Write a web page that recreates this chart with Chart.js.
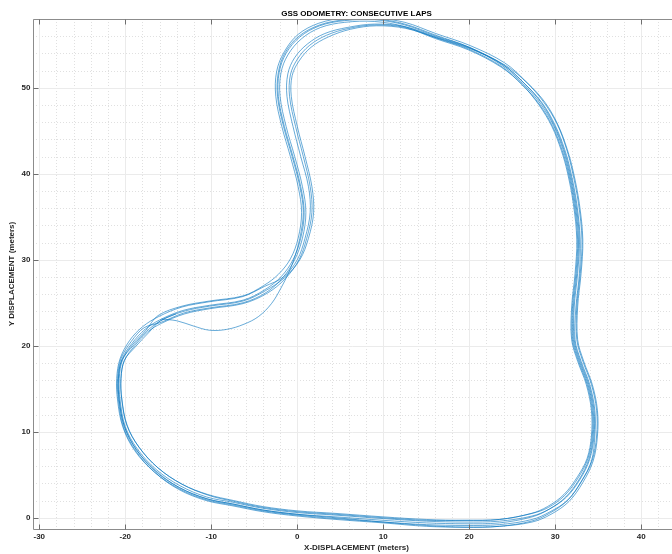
<!DOCTYPE html>
<html>
<head>
<meta charset="utf-8">
<title>GSS Odometry</title>
<script src="https://cdn.jsdelivr.net/npm/chart.js@4.4.1/dist/chart.umd.min.js"></script>
<style>
    body { margin: 0; background: #fff; }
    canvas { display: block; }
</style>
</head>
<body>
<canvas id="lapsChart" width="672" height="554"></canvas>
<script>
// ===== Lap data (x, y in meters) =====
// first lap starts in the saddle, below the usual line
const lap1 = [[-15.8,23.1],[-14.0,22.9],[-12.1,22.3],[-10.2,21.8],[-8.2,21.9],[-6.2,22.5],[-4.5,23.4],[-3.0,24.9],[-1.9,26.7],[-1.0,28.5],[-0.3,30.3],
    [0.3,32.5],[0.7,35.5],[0.3,38.5],[-0.6,42.0],[-1.6,45.5],[-2.3,49.0],[-2.2,51.8],[-1.4,54.1],[0.2,56.0],[2.6,57.3],[5.5,57.9],
    [9.0,58.0],[12.5,57.4],[16.1,56.1],[20.0,54.7],[23.8,52.6],[26.3,50.4],[28.3,48.1],[29.8,45.6],[30.9,42.8],[31.6,40.2],[32.3,36.5],
    [32.7,32.3],[32.5,28.4],[32.1,24.5],[32.1,20.7],[32.8,18.2],[33.8,15.5],[34.4,12.5],[34.4,9.5],[33.9,6.8],[32.8,4.5],
    [31.2,2.4],[29.3,1.0],[27.3,0.1],[23.5,-0.6],[19.5,-0.7],[15.0,-0.6],[10.0,-0.3],[4.5,0.1],[0.0,0.4],[-4.0,0.9],
    [-7.5,1.6],[-10.5,2.2],[-13.7,3.5],[-16.5,5.4],[-18.7,7.9],[-20.1,10.6],[-20.7,13.7],[-20.8,16.2],[-20.4,18.4],[-19.2,20.3],[-17.7,21.9]];

const lap2 = [[-16.0,23.0],[-13.3,24.1],[-10.2,24.7],[-6.3,25.3],[-3.8,26.5],[-1.9,28.0],[-0.5,30.0],[0.4,32.5],[0.8,35.5],[0.4,38.5],
    [-0.5,42.0],[-1.5,45.5],[-2.2,49.0],[-2.1,51.8],[-1.3,54.0],[0.3,55.9],[2.6,57.2],[5.5,57.8],[9.0,57.9],[12.5,57.3],
    [16.1,56.0],[20.0,54.7],[23.9,52.7],[26.4,50.5],[28.4,48.2],[29.9,45.6],[31.0,42.8],[31.7,40.2],[32.4,36.5],[32.8,32.3],[32.6,28.4],
    [32.2,24.5],[32.2,20.7],[32.9,18.2],[33.9,15.5],[34.5,12.5],[34.5,9.5],[34.0,6.8],[32.9,4.5],[31.3,2.4],[29.3,1.0],
    [27.3,0.2],[23.5,-0.4],[19.5,-0.5],[15.0,-0.4],[10.0,-0.1],[4.5,0.3],[0.0,0.6],[-4.0,1.1],[-7.5,1.8],[-10.5,2.4],
    [-13.6,3.7],[-16.4,5.6],[-18.6,8.0],[-20.0,10.6],[-20.6,13.7],[-20.7,16.2],[-20.3,18.4],[-19.1,20.2],[-17.6,21.8]];

const lap3 = [[-16.1,23.4],[-13.4,24.5],[-10.3,25.1],[-6.4,25.7],[-3.8,26.9],[-1.6,28.0],[0.0,30.0],[0.9,32.5],[1.5,35.5],[1.3,38.5],
    [0.4,42.0],[-0.5,45.5],[-1.2,49.0],[-1.1,51.6],[-0.3,53.5],[1.2,55.1],[3.2,56.3],[5.8,57.0],[9.0,57.4],[12.5,57.1],
    [16.1,55.9],[20.1,54.6],[24.0,52.6],[26.5,50.4],[28.5,48.2],[30.0,45.6],[31.1,42.8],[31.8,40.2],[32.5,36.5],[32.9,32.3],[32.8,28.4],
    [32.4,24.5],[32.3,20.7],[33.0,18.2],[34.0,15.5],[34.6,12.5],[34.6,9.5],[34.2,6.6],[33.0,4.2],[31.4,2.0],[29.3,0.5],
    [27.2,-0.4],[23.5,-1.0],[19.5,-1.1],[15.0,-1.0],[10.0,-0.6],[4.5,-0.2],[0.0,0.2],[-4.0,0.7],[-7.6,1.4],[-10.6,2.0],
    [-13.8,3.3],[-16.6,5.3],[-18.8,7.8],[-20.2,10.5],[-20.8,13.7],[-20.9,16.2],[-20.5,18.5],[-19.3,20.5],[-17.8,22.1]];

const lap4 = [[-16.2,23.5],[-13.4,24.6],[-10.2,25.2],[-6.3,25.8],[-3.9,27.0],[-2.2,28.3],[-0.8,30.1],[0.1,32.5],[0.5,35.5],[0.1,38.5],
    [-0.8,42.0],[-1.8,45.5],[-2.5,49.0],[-2.4,51.9],[-1.5,54.2],[0.1,56.2],[2.5,57.5],[5.5,58.1],[9.0,58.1],[12.5,57.6],
    [16.1,56.3],[20.1,54.9],[24.1,52.9],[26.6,50.7],[28.6,48.4],[30.2,45.8],[31.3,42.9],[32.0,40.2],[32.7,36.5],[33.1,32.3],[32.9,28.4],
    [32.5,24.5],[32.5,20.7],[33.2,18.2],[34.2,15.5],[34.8,12.5],[34.8,9.5],[34.3,6.7],[33.1,4.3],[31.5,2.1],[29.4,0.7],
    [27.3,-0.2],[23.5,-0.8],[19.5,-0.9],[15.0,-0.8],[10.0,-0.5],[4.5,-0.1],[0.0,0.3],[-4.0,0.8],[-7.6,1.5],[-10.6,2.1],
    [-13.8,3.4],[-16.6,5.3],[-18.9,7.8],[-20.3,10.6],[-20.9,13.7],[-21.0,16.2],[-20.6,18.5],[-19.5,20.6],[-18.0,22.2]];

const lap5 = [[-15.8,22.6],[-13.1,23.7],[-10.2,24.3],[-6.3,24.9],[-3.5,26.1],[-1.4,27.8],[0.2,30.0],[1.1,32.5],[1.7,35.5],[1.5,38.5],
    [0.7,42.0],[-0.2,45.5],[-0.9,49.0],[-0.8,51.5],[0.0,53.3],[1.4,54.9],[3.4,56.1],[6.0,56.9],[9.1,57.3],[12.5,57.0],
    [16.1,55.7],[19.9,54.4],[23.7,52.4],[26.2,50.3],[28.1,48.0],[29.6,45.5],[30.7,42.7],[31.4,40.2],[32.1,36.5],[32.5,32.3],[32.3,28.4],
    [31.9,24.5],[31.9,20.7],[32.6,18.2],[33.6,15.5],[34.2,12.5],[34.2,9.5],[33.7,6.9],[32.6,4.8],[31.0,2.7],[29.1,1.3],
    [27.2,0.5],[23.5,-0.2],[19.5,-0.3],[15.0,-0.3],[10.0,0.0],[4.5,0.4],[0.0,0.7],[-4.0,1.2],[-7.4,1.9],[-10.3,2.6],
    [-13.4,3.9],[-16.2,5.8],[-18.4,8.2],[-19.8,10.8],[-20.4,13.8],[-20.5,16.2],[-20.1,18.3],[-18.8,19.9],[-17.3,21.5]];

const lap6 = [[-15.9,22.7],[-13.2,23.8],[-10.2,24.4],[-6.3,25.0],[-3.6,26.2],[-1.7,27.9],[-0.3,30.0],[0.6,32.5],[1.0,35.5],[0.6,38.5],
    [-0.3,42.0],[-1.3,45.5],[-2.0,49.0],[-1.9,51.7],[-1.1,53.8],[0.5,55.7],[2.7,57.0],[5.5,57.6],[9.0,57.7],[12.5,57.1],
    [16.1,55.8],[19.9,54.5],[23.7,52.5],[26.2,50.3],[28.2,48.0],[29.7,45.5],[30.8,42.7],[31.5,40.2],[32.2,36.5],[32.6,32.3],[32.4,28.4],
    [32.0,24.5],[32.0,20.7],[32.7,18.2],[33.7,15.5],[34.3,12.5],[34.3,9.5],[33.8,6.9],[32.7,4.7],[31.1,2.6],[29.2,1.2],
    [27.3,0.5],[23.5,-0.2],[19.5,-0.3],[15.0,-0.2],[10.0,0.1],[4.5,0.5],[0.0,0.8],[-4.0,1.3],[-7.4,2.0],[-10.4,2.7],
    [-13.4,3.9],[-16.2,5.8],[-18.4,8.2],[-19.8,10.7],[-20.4,13.7],[-20.5,16.2],[-20.1,18.3],[-18.9,20.0],[-17.4,21.6]];

const lap7 = [[-15.9,22.9],[-13.2,24.0],[-10.2,24.6],[-6.3,25.2],[-3.7,26.4],[-1.5,27.9],[0.3,30.0],[1.3,32.5],[1.9,35.5],[1.7,38.5],
    [0.9,42.0],[0.0,45.5],[-0.7,49.0],[-0.6,51.4],[0.2,53.1],[1.6,54.7],[3.6,55.9],[6.2,56.8],[9.2,57.2],[12.6,56.9],
    [16.2,55.8],[20.2,54.5],[24.2,52.6],[26.8,50.5],[28.8,48.3],[30.3,45.7],[31.4,42.8],[32.1,40.2],[32.8,36.5],[33.2,32.3],[33.0,28.4],
    [32.6,24.5],[32.6,20.7],[33.3,18.2],[34.3,15.5],[34.9,12.5],[34.9,9.5],[34.4,6.6],[33.2,4.1],[31.6,1.9],[29.5,0.4],
    [27.3,-0.5],[23.5,-1.0],[19.5,-1.1],[15.0,-0.9],[10.0,-0.5],[4.5,0.0],[0.0,0.4],[-4.0,0.9],[-7.5,1.6],[-10.5,2.2],
    [-13.7,3.5],[-16.5,5.5],[-18.7,7.9],[-20.1,10.6],[-20.7,13.6],[-20.8,16.1],[-20.4,18.3],[-19.0,20.1],[-17.5,21.7],
    [-15.9,22.9],[-14.1,23.7]];

// laps in driving order; the car goes round continuously
const laps = [lap1, lap2, lap4, lap3, lap6, lap5, lap7];

// Axis limits and tick labels
const xLimits = [-30.73, 43.57];
const yLimits = [-1.31, 57.99];
const xTicks = [-30, -20, -10, 0, 10, 20, 30, 40];
const yTicks = [0, 10, 20, 30, 40, 50];

const titleText = 'GSS ODOMETRY: CONSECUTIVE LAPS';
const xLabel = 'X-DISPLACEMENT (meters)';
const yLabel = 'Y DISPLACEMENT (meters)';

const FONT = "'Liberation Sans', Arial, Helvetica, sans-serif";
const lineBlue = '#0072BD';

// ===== Grid, box and labels drawn MATLAB style =====
const matlabAxes = {
    id: 'matlabAxes',
    beforeDatasetsDraw(chart) {
        const { ctx, chartArea: a, scales: { x, y } } = chart;
        ctx.save();
        ctx.lineWidth = 1;

        // minor grid (dotted, every 2 m)
        ctx.strokeStyle = '#e0e0e0';
        ctx.setLineDash([1, 2]);
        for (let v = -30; v <= 44; v += 2) {
            if (v % 10 === 0) continue;
            const px = Math.round(x.getPixelForValue(v)) + 0.5;
            if (px < a.left || px > a.right) continue;
            ctx.beginPath(); ctx.moveTo(px, a.top); ctx.lineTo(px, a.bottom); ctx.stroke();
        }
        for (let v = 0; v <= 58; v += 2) {
            if (v % 10 === 0) continue;
            const py = Math.round(y.getPixelForValue(v)) + 0.5;
            ctx.beginPath(); ctx.moveTo(a.left, py); ctx.lineTo(a.right, py); ctx.stroke();
        }

        // major grid
        ctx.setLineDash([]);
        ctx.strokeStyle = '#ebebeb';
        xTicks.forEach(v => {
            const px = Math.round(x.getPixelForValue(v)) + 0.5;
            ctx.beginPath(); ctx.moveTo(px, a.top); ctx.lineTo(px, a.bottom); ctx.stroke();
        });
        yTicks.forEach(v => {
            const py = Math.round(y.getPixelForValue(v)) + 0.5;
            ctx.beginPath(); ctx.moveTo(a.left, py); ctx.lineTo(a.right, py); ctx.stroke();
        });
        ctx.restore();
    },
    afterDatasetsDraw(chart) {
        const { ctx, chartArea: a, scales: { x, y } } = chart;
        ctx.save();
        const L = Math.round(a.left) + 0.5;
        const T = Math.round(a.top) + 0.5;
        const B = Math.round(a.bottom) + 0.5;

        // box (the right edge runs off the page)
        ctx.strokeStyle = '#8c8c8c';
        ctx.lineWidth = 1;
        ctx.beginPath();
        ctx.moveTo(a.right + 2, T); ctx.lineTo(L, T); ctx.lineTo(L, B); ctx.lineTo(a.right + 2, B);
        ctx.stroke();

        // inward tick marks
        ctx.strokeStyle = '#6e6e6e';
        xTicks.forEach(v => {
            const px = Math.round(x.getPixelForValue(v)) + 0.5;
            ctx.beginPath();
            ctx.moveTo(px, B); ctx.lineTo(px, B - 5);
            ctx.moveTo(px, T); ctx.lineTo(px, T + 5);
            ctx.stroke();
        });
        yTicks.forEach(v => {
            const py = Math.round(y.getPixelForValue(v)) + 0.5;
            ctx.beginPath(); ctx.moveTo(L, py); ctx.lineTo(L + 5, py); ctx.stroke();
        });

        // tick labels
        ctx.fillStyle = '#262626';
        ctx.font = 'bold 8px ' + FONT;
        ctx.textBaseline = 'middle';
        ctx.textAlign = 'center';
        xTicks.forEach(v => ctx.fillText(String(v), x.getPixelForValue(v), 537));
        ctx.textAlign = 'right';
        yTicks.forEach(v => ctx.fillText(String(v), 30.5, y.getPixelForValue(v)));

        // title and axis labels
        const cx = 356.5;
        ctx.textAlign = 'center';
        ctx.fillStyle = '#000';
        ctx.fillText(titleText, cx, 13.5);

        ctx.fillStyle = '#262626';
        ctx.fillText(xLabel, cx, 547.5);

        ctx.translate(11.5, (a.top + a.bottom) / 2);
        ctx.rotate(-Math.PI / 2);
        ctx.fillText(yLabel, 0, 0);
        ctx.restore();
    }
};

// ===== Chart =====
// one continuous trace so the smoothing carries across lap boundaries
const track = laps.flat().map(([px, py]) => ({ x: px, y: py }));

new Chart(document.getElementById('lapsChart'), {
    type: 'scatter',
    data: {
        datasets: [{
            data: track,
            showLine: true,
            borderColor: lineBlue,
            borderWidth: 0.6,
            pointRadius: 0,
            tension: 0.35,
            fill: false
        }]
    },
    plugins: [matlabAxes],
    options: {
        responsive: false,
        animation: false,
        devicePixelRatio: 1,
        layout: { padding: { top: 19, right: 0, left: 0, bottom: 0 } },
        plugins: {
            legend: { display: false },
            tooltip: { enabled: false }
        },
        scales: {
            x: {
                type: 'linear',
                min: xLimits[0],
                max: xLimits[1],
                grid: { display: false },
                border: { display: false },
                ticks: { display: false },
                afterFit: s => { s.height = 25; }
            },
            y: {
                type: 'linear',
                min: yLimits[0],
                max: yLimits[1],
                grid: { display: false },
                border: { display: false },
                ticks: { display: false },
                afterFit: s => { s.width = 33; }
            }
        }
    }
});
</script>
</body>
</html>
